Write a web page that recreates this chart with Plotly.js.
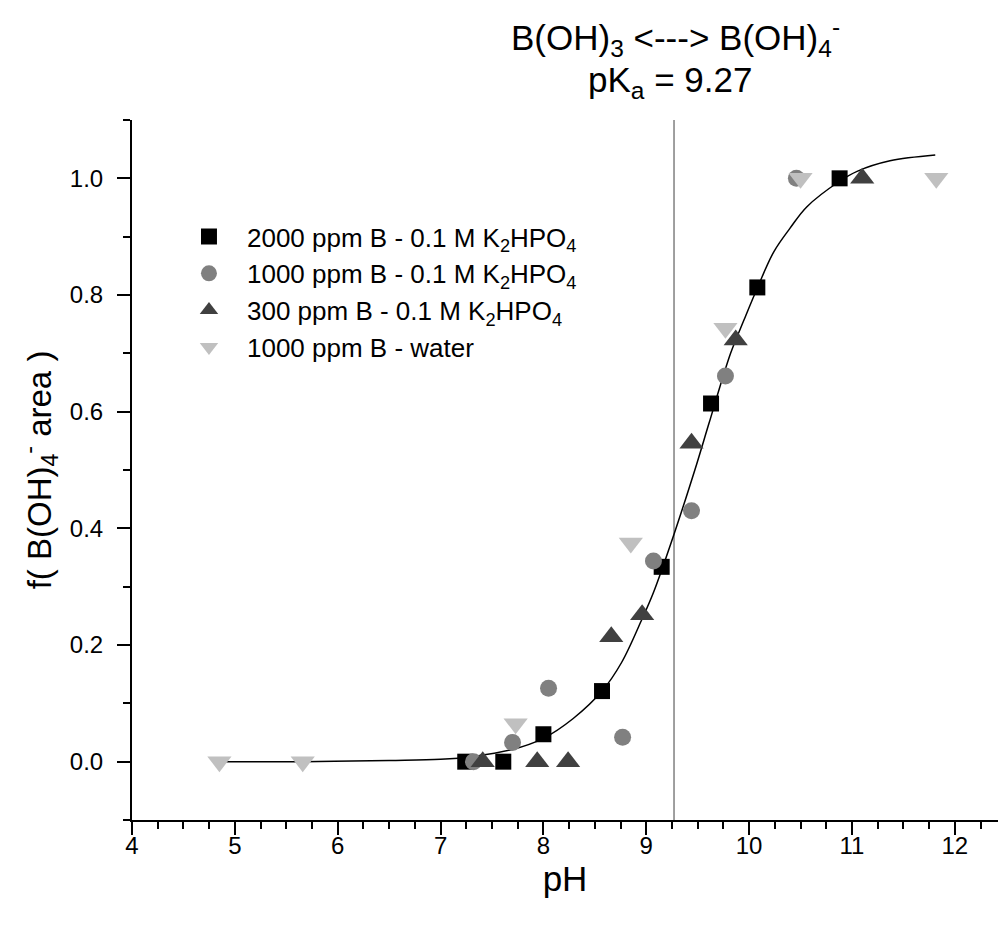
<!DOCTYPE html>
<html>
<head>
<meta charset="utf-8">
<script src="https://cdn.plot.ly/plotly-3.0.1.min.js"></script>
<style>html,body{margin:0;padding:0;background:#fff;}#chart{width:999px;height:932px;}</style>
</head>
<body>
<div id="chart"></div>
<script>
// ---- data ----
var seriesNames = [
  "2000 ppm B - 0.1 M K<sub>2</sub>HPO<sub>4</sub>",
  "1000 ppm B - 0.1 M K<sub>2</sub>HPO<sub>4</sub>",
  "300 ppm B - 0.1 M K<sub>2</sub>HPO<sub>4</sub>",
  "1000 ppm B - water"
];
var ph2000 = [7.24, 7.61, 8.00, 8.57, 9.15, 9.63, 10.08, 10.88];
var f2000  = [0.000, 0.000, 0.047, 0.121, 0.334, 0.614, 0.813, 1.000];

var ph1000 = [7.32, 7.70, 8.05, 8.77, 9.07, 9.44, 9.77, 10.46];
var f1000  = [0.000, 0.033, 0.126, 0.042, 0.344, 0.430, 0.661, 1.000];

var ph300 = [7.41, 7.94, 8.24, 8.66, 8.96, 9.44, 9.87, 11.10];
var f300  = [0.000, 0.000, 0.000, 0.214, 0.252, 0.546, 0.723, 1.000];

var phWater = [4.85, 5.66, 7.73, 8.85, 9.77, 10.50, 11.82];
var fWater  = [0.000, 0.000, 0.065, 0.375, 0.743, 1.000, 1.000];

// fitted curve, points
var phFit = [4.85, 5.66, 6.50, 7.00, 7.32, 7.70, 8.00, 8.29, 8.57, 8.76, 8.96, 9.07, 9.27, 9.49, 9.61, 9.82, 9.95, 10.08, 10.24, 10.40, 10.56, 10.88, 11.05, 11.37, 11.81];
var fFit  = [0.000, 0.000, 0.002, 0.004, 0.009, 0.021, 0.040, 0.074, 0.121, 0.170, 0.245, 0.290, 0.390, 0.510, 0.580, 0.700, 0.757, 0.812, 0.874, 0.915, 0.951, 0.995, 1.012, 1.030, 1.040];

var pKa = 9.27;
var xTicks = [4, 5, 6, 7, 8, 9, 10, 11, 12];
var yTicks = [0.0, 0.2, 0.4, 0.6, 0.8, 1.0];
var yTickText = ["0.0", "0.2", "0.4", "0.6", "0.8", "1.0"];

// ---- chart ----
var FONT = "Arial, 'Liberation Sans', sans-serif";

var traces = [
  {x: phFit, y: fFit, mode: "lines", line: {color: "#000", width: 1.5, shape: "spline"},
   showlegend: false, hoverinfo: "skip"},
  {x: ph2000, y: f2000, mode: "markers", name: seriesNames[0], legendrank: 1, legendgroup: "a",
   marker: {symbol: "square", size: 16, color: "#000000", line: {width: 0}}},
  {x: ph1000, y: f1000, mode: "markers", name: seriesNames[1], legendrank: 2, legendgroup: "b",
   marker: {symbol: "circle", size: 17, color: "#808080", line: {width: 0}}},
  {x: phWater, y: fWater, mode: "markers", name: seriesNames[3], legendrank: 4, legendgroup: "d",
   marker: {symbol: "triangle-down", size: 21, color: "#c0c0c0", line: {width: 0}}},
  {x: ph300, y: f300, mode: "markers", name: seriesNames[2], legendrank: 3, legendgroup: "c",
   marker: {symbol: "triangle-up", size: 21, color: "#404040", line: {width: 0}}}
];

var layout = {
  width: 999, height: 932,
  paper_bgcolor: "#fff", plot_bgcolor: "#fff",
  margin: {l: 131.5, r: 1, t: 120, b: 112},
  font: {family: FONT, color: "#000", size: 24},
  showlegend: true,
  legend: {
    x: 0.045, y: 0.867, xanchor: "left", yanchor: "top",
    bgcolor: "rgba(0,0,0,0)", borderwidth: 0,
    font: {family: FONT, size: 26, color: "#000"},
    itemwidth: 66, traceorder: "grouped", tracegroupgap: 0
  },
  xaxis: {
    range: [4, 12.42], tickmode: "array", tickvals: xTicks,
    showline: true, linecolor: "#000", linewidth: 2, mirror: false,
    ticks: "outside", ticklen: 13, tickwidth: 2, tickcolor: "#000",
    minor: {dtick: 0.25, ticks: "outside", ticklen: 7, tickwidth: 2, tickcolor: "#000", showgrid: false},
    showgrid: false, zeroline: false, ticklabelstandoff: -10,
    tickfont: {family: FONT, size: 24},
    title: {text: "pH", font: {family: FONT, size: 35}, standoff: 4}
  },
  yaxis: {
    range: [-0.1, 1.1], tickmode: "array", tickvals: yTicks, ticktext: yTickText,
    showline: true, linecolor: "#000", linewidth: 2, mirror: false,
    ticks: "outside", ticklen: 13, tickwidth: 2, tickcolor: "#000",
    minor: {dtick: 0.1, ticks: "outside", ticklen: 7, tickwidth: 2, tickcolor: "#000", showgrid: false},
    showgrid: false, zeroline: false, ticklabelstandoff: 9,
    tickfont: {family: FONT, size: 24},
    title: {text: "f( B(OH)<sub>4</sub><sup>-</sup> area )", font: {family: FONT, size: 33}, standoff: 8}
  },
  shapes: [
    {type: "line", xref: "x", yref: "paper", x0: pKa, x1: pKa, y0: 0, y1: 1,
     line: {color: "#808080", width: 1.5}, layer: "below"}
  ],
  annotations: [
    {xref: "paper", yref: "paper", x: (675 - 131.5) / 866.5, y: 1 + (120 - 38) / 700,
     xanchor: "center", yanchor: "middle", showarrow: false,
     text: "B(OH)<sub>3</sub> &lt;---&gt; B(OH)<sub>4</sub><sup>-</sup>",
     font: {family: FONT, size: 35, color: "#000"}},
    {xref: "paper", yref: "paper", x: (670 - 131.5) / 866.5, y: 1 + (120 - 82) / 700,
     xanchor: "center", yanchor: "middle", showarrow: false,
     text: "pK<sub>a</sub> = " + pKa.toFixed(2),
     font: {family: FONT, size: 35, color: "#000"}}
  ]
};

Plotly.newPlot("chart", traces, layout, {displayModeBar: false, staticPlot: true});
</script>
</body>
</html>
